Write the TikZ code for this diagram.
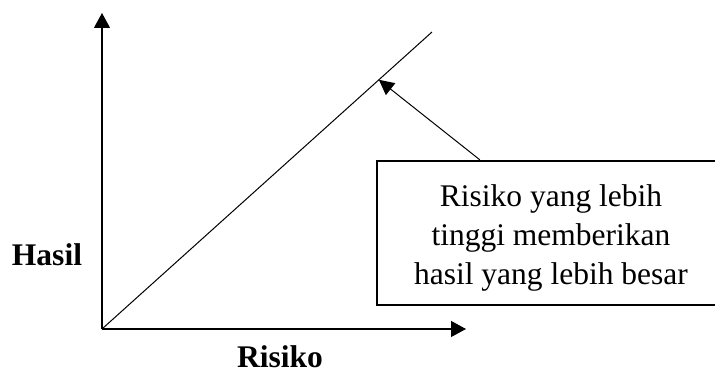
\documentclass[tikz,border=0pt]{standalone}
\usepackage{fontspec}
\setmainfont{Liberation Serif}
\usetikzlibrary{arrows.meta,calc}
\begin{document}
\begin{tikzpicture}[x=1pt,y=1pt,
  axis/.style={line width=1.2pt,-{Triangle[length=15pt,width=16pt]}},
  pointer/.style={line width=1pt,-{Triangle[length=15pt,width=15pt]}},
  notebox/.style={draw,line width=2.4pt,minimum width=348pt,minimum height=144pt,inner sep=0pt},
  notetext/.style={align=center,inner sep=0pt,font=\fontsize{31.5}{39}\selectfont},
  axislabel/.style={font=\fontsize{31.5}{37}\selectfont\bfseries}]
  \useasboundingbox (0,0) rectangle (715,379);
  \clip (0,0) rectangle (715,379);
  % axes and the rising line
  \coordinate (O) at (102,50);
  \coordinate (ytop) at (102,366);
  \coordinate (xend) at (466,50);
  \coordinate (lineend) at (432,347);
  \draw[axis] (O) -- (ytop);
  \draw[axis] (O) -- (xend);
  \draw[line width=1pt] (O) -- (lineend);
  \path (O) -- (lineend) coordinate[pos=0.839] (hit);
  % axis labels
  \node[axislabel] (hasil) at (47,124) {Hasil};
  \node[axislabel] (risiko) at (280,22) {Risiko};
  % explanation box, its text and its pointer
  \node[notebox] (note) at (551,146) {};
  \node[notetext] (notetxt) at ($(note.center)+(0,-5)$) {Risiko yang lebih\\tinggi memberikan\\hasil yang lebih besar};
  \coordinate (start) at ($(note.north west)+(104,0)$);
  \draw[pointer] (start) -- (hit);
\end{tikzpicture}
\end{document}
